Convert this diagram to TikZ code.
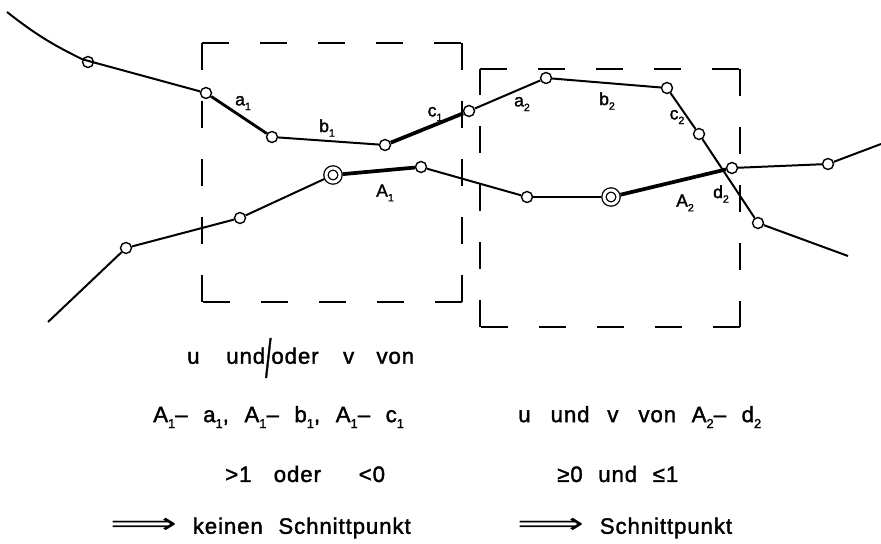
\documentclass[tikz,border=0pt]{standalone}
\usepackage{fontspec}
\setmainfont{Liberation Sans}[LetterSpace=4,WordSpace=2.2,FakeBold=1.6]
\newfontfamily\arrowfont{DejaVu Sans}
\usepackage{tikz}
\usetikzlibrary{arrows.meta,calc,positioning}
\newcommand{\lowsub}[1]{\raisebox{-0.5ex}{\fontsize{11}{12}\selectfont #1}}
\newcommand{\picsub}[1]{\raisebox{-0.5ex}{\fontsize{9}{10}\selectfont #1}}
\newcommand{\slashmark}{\raisebox{-0.6em}{\scalebox{1}[2.4]{/}}}
\newcommand{\thenarrow}{\scalebox{2.1}[1.3]{\arrowfont ⟹}}
\newcommand{\dashedframe}[4]{%
  \draw[frame] (#1,#2)--(#3,#2); \draw[frame] (#3,#2)--(#3,#4);
  \draw[frame] (#3,#4)--(#1,#4); \draw[frame] (#1,#4)--(#1,#2);}

\begin{document}
\begin{tikzpicture}[x=0.3mm,y=-0.3mm,
  vtx/.style={circle,draw,fill=white,line width=1.2pt,inner sep=0pt,minimum size=3.3mm},
  ring/.style={circle,draw,fill=white,line width=1.1pt,double,double distance=0.9mm,
    inner sep=0pt,minimum size=4.2mm,outer sep=0.84mm},
  edge/.style={line width=1.7pt},
  medium/.style={line width=2.4pt},
  heavy/.style={line width=3.2pt},
  frame/.style={line width=1.5pt,dash pattern=on 8.1mm off 9.3mm},
  lbl/.style={font=\fontsize{15}{17}\selectfont,inner sep=0pt},
  txt/.style={font=\fontsize{19}{22}\selectfont,inner sep=0pt,anchor=west}]
  \useasboundingbox (0,0) rectangle (881,543);
  \dashedframe{202}{43}{462}{302}
  \dashedframe{480}{69}{740}{327}
  \coordinate (p0) at (7,12);
  \node[vtx] (p1) at (88,62) {};
  \node[vtx] (p2) at (206,93) {};
  \node[vtx] (p3) at (272,137) {};
  \node[vtx] (p4) at (385,145) {};
  \node[vtx] (p5) at (469,111) {};
  \node[vtx] (p6) at (546,78) {};
  \node[vtx] (p7) at (667,88) {};
  \node[vtx] (p8) at (699,134) {};
  \node[vtx] (p9) at (758,223) {};
  \coordinate (p10) at (848,256);
  \coordinate (q0) at (48,322);
  \node[vtx] (q1) at (126,248) {};
  \node[vtx] (q2) at (240,218) {};
  \node[ring] (q3) at (333,175) {};
  \node[vtx] (q4) at (421,167) {};
  \node[vtx] (q5) at (527,197) {};
  \node[ring] (q6) at (611,197) {};
  \node[vtx] (q7) at (732,168) {};
  \node[vtx] (q8) at (828,164) {};
  \coordinate (q9) at (881,144);
  \draw[edge] (p0) to[bend right=6] (p1) -- (p2);
  \draw[medium] (p2) -- (p3);
  \draw[edge] (p3) -- (p4);
  \draw[heavy] (p4) -- (p5);
  \draw[edge] (p5) -- (p6) -- (p7) -- (p8) -- (p9) -- (p10);
  \draw[edge] (q0) -- (q1) -- (q2) -- (q3);
  \draw[heavy] (q3) -- (q4);
  \draw[edge] (q4) -- (q5) -- (q6);
  \draw[heavy] (q6) -- (q7);
  \draw[edge] (q7) -- (q8) -- (q9);
  \node[lbl] (la1) at (243,103) {a\picsub{1}};
  \node[lbl] (lb1) at (327,128) {b\picsub{1}};
  \node[lbl] (lc1) at (435,114) {c\picsub{1}};
  \node[lbl] (lA1) at (385,193) {A\picsub{1}};
  \node[lbl] (la2) at (522,104) {a\picsub{2}};
  \node[lbl] (lb2) at (607,101) {b\picsub{2}};
  \node[lbl] (lc2) at (677,117) {c\picsub{2}};
  \node[lbl] (lA2) at (685,203) {A\picsub{2}};
  \node[lbl] (ld2) at (721,194) {d\picsub{2}};
  \node[txt] (row1) at (187,358) {u\hspace{0.5em} und\slashmark oder\hspace{0.4em} v\hspace{0.3em} von};
  \node[txt] (row2) at (153,417) {A\lowsub{1}– a\lowsub{1}, A\lowsub{1}– b\lowsub{1}, A\lowsub{1}– c\lowsub{1}};
  \node[txt] (row3) at (225,474) {>1\hspace{0.3em} oder\hspace{1em} <0};
  \node[txt] (row4) at (110,528) {\thenarrow\ keinen Schnittpunkt};
  \node[txt] (right2) at (518,417) {u\hspace{0.2em} und\hspace{0.1em} v\hspace{0.2em} von A\lowsub{2}– d\lowsub{2}};
  \node[txt] (right3) at (557,474) {≥0 und ≤1};
  \node[txt] (right4) at (517,528) {\thenarrow\ Schnittpunkt};
\end{tikzpicture}
\end{document}
